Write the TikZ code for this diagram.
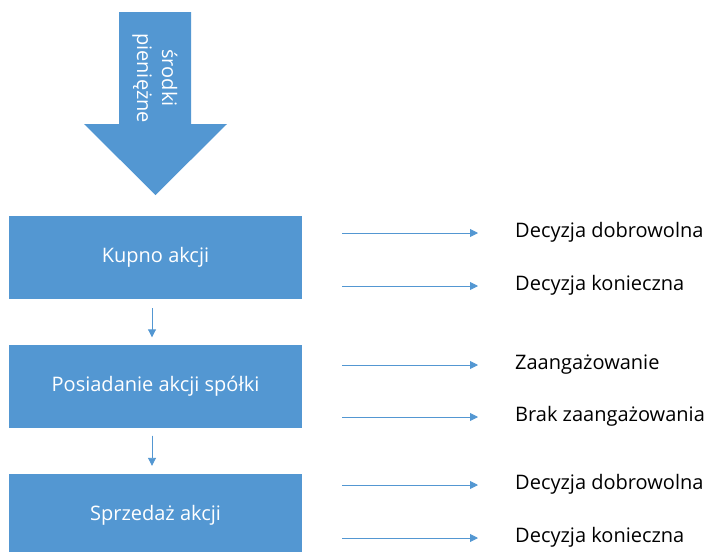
\documentclass[tikz,border=0pt]{standalone}
\usepackage{fontspec}
\setmainfont{Open Sans}
\usetikzlibrary{arrows.meta}
\definecolor{niebieski}{RGB}{83,151,210}

\tikzset{
	etap/.style={fill=niebieski, text=white, inner sep=0pt, minimum width=293pt, minimum height=83pt, font=\fontsize{20}{24}\selectfont},
	opis/.style={anchor=base west, inner sep=0pt, font=\fontsize{20}{24}\selectfont},
	strz/.style={-{Triangle[width=8pt,length=8pt]}, draw=niebieski, fill=niebieski, line width=0.9pt}
}

\begin{document}
\begin{tikzpicture}[x=1pt, y=-1pt]
		\clip (0,0) rectangle (705,552);
		% duza strzalka u gory
		\fill[niebieski] (119,12) -- (191,12) -- (191,124) -- (227,124) -- (155.5,195) -- (84,124) -- (119,124) -- cycle;
		\node (srodki)at (155,78)[rotate=-90, text=white, align=center, inner sep=0pt, font=\fontsize{20}{25}\selectfont]  {środki\\pieniężne};
		% etapy
		\node (kupno)at (155.5, 257.5)[etap]  {Kupno akcji};
		\node (posiadanie)at (155.5, 386)[etap]  {Posiadanie akcji spółki};
		\node (sprzedaz)at (155.5, 515.5)[etap]  {Sprzedaż akcji};
		\draw [strz]([xshift=-3.5pt, yshift=-9pt]kupno.south)--([xshift=-3.5pt, yshift=7pt]posiadanie.north);
		\draw [strz]([xshift=-3.5pt, yshift=-8pt]posiadanie.south)--([xshift=-3.5pt, yshift=8pt]sprzedaz.north);
		% decyzje
		\foreach \y/\t [count=\i] in {233/Decyzja dobrowolna, 286/Decyzja konieczna, 365/Zaangażowanie, 417/Brak zaangażowania, 485/Decyzja dobrowolna, 538/Decyzja konieczna}{
			\node (opis\i)at (515, \y+4)[opis]  {\t};
			\coordinate (pocz\i) at (342, \y);
			\draw [strz](pocz\i)--++(136, 0);
		}
	\end{tikzpicture}
\end{document}
